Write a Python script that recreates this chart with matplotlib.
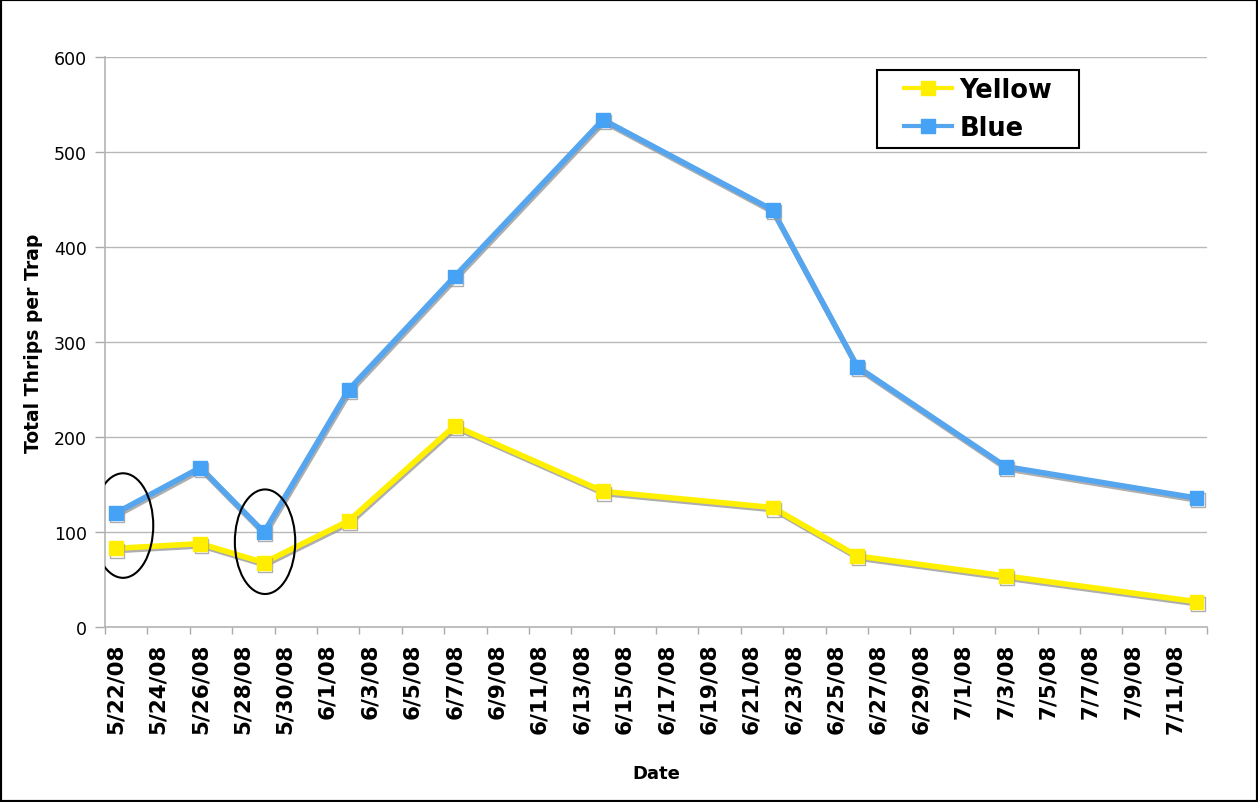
from datetime import datetime, timedelta

import matplotlib
matplotlib.use("Agg")
import matplotlib.pyplot as plt
import matplotlib.dates as mdates
import matplotlib.patheffects as pe
from matplotlib.patches import Ellipse, Rectangle

# sample dates (2008) and total thrips per trap
dates = ["5/22", "5/26", "5/29", "6/2", "6/7", "6/14", "6/22", "6/26", "7/3", "7/12"]
yellow = [83, 88, 68, 112, 212, 143, 126, 75, 54, 27]
blue = [120, 168, 100, 250, 369, 534, 439, 274, 169, 136]

# circled samples: (date, y centre)
circled = [("5/22", 107), ("5/29", 90)]


def to_dt(s):
    m, d = s.split("/")
    return datetime(2008, int(m), int(d))


x = [to_dt(d) for d in dates]

plt.rcParams["font.family"] = ["DejaVu Sans"]

fig = plt.figure(figsize=(12.58, 8.03), dpi=100)
ax = fig.add_axes([0.0835, 0.2176, 0.876, 0.7102])

shadow = [pe.SimpleLineShadow(offset=(0.8, -1.6), shadow_color="#9a9a9a", alpha=0.8), pe.Normal()]

ax.plot(x, yellow, color="#FFF000", lw=4, marker="s", markersize=10,
        markerfacecolor="#FFEE00", markeredgecolor="#FFEE00", label="Yellow",
        path_effects=shadow, zorder=3)
ax.plot(x, blue, color="#55A6EE", lw=4, marker="s", markersize=10,
        markerfacecolor="#45A2F5", markeredgecolor="#45A2F5", label="Blue",
        path_effects=shadow, zorder=4)

start = datetime(2008, 5, 22)
ax.set_xlim(mdates.date2num(start - timedelta(hours=12)),
            mdates.date2num(datetime(2008, 7, 12, 12)))
ax.set_ylim(0, 600)

label_days = [start + timedelta(days=2 * i) for i in range(26)]
ax.set_xticks([mdates.date2num(d) for d in label_days])
ax.set_xticklabels([f"{d.month}/{d.day}/08" for d in label_days],
                   rotation=90, fontsize=15.5, fontweight="bold")
edge_days = [start - timedelta(hours=12) + timedelta(days=2 * i) for i in range(27)]
ax.set_xticks([mdates.date2num(d) for d in edge_days], minor=True)
ax.tick_params(axis="x", which="major", length=0, pad=11)
ax.tick_params(axis="x", which="minor", length=5, color="#aaaaaa", width=1)

ax.set_yticks(range(0, 601, 100))
ax.tick_params(axis="y", labelsize=12.5, length=7, color="#aaaaaa", width=1, pad=6)
ax.grid(axis="y", color="#b8b8b8", lw=1)
ax.set_axisbelow(True)

for side in ["top", "right"]:
    ax.spines[side].set_visible(False)
for side in ["left", "bottom"]:
    ax.spines[side].set_color("#b4b4b4")
    ax.spines[side].set_linewidth(1.2)

ax.set_ylabel("Total Thrips per Trap", fontsize=13.5, fontweight="bold", labelpad=8)
ax.set_xlabel("Date", fontsize=13, fontweight="bold", labelpad=22)

for (d, yc), dx in zip(circled, [0.35, 0.05]):
    ax.add_patch(Ellipse((mdates.date2num(to_dt(d)) + dx, yc), width=2.85, height=110,
                         fill=False, edgecolor="black", lw=1.5, zorder=5))

# legend box drawn by hand, legend entries centred inside it
fig.patches.append(Rectangle((877 / 1258, 1 - 149 / 803), 202 / 1258, 78 / 803,
                             transform=fig.transFigure, fill=False,
                             edgecolor="black", lw=1.5, zorder=10))
leg = ax.legend(loc="center", bbox_to_anchor=(978 / 1258, 1 - 110 / 803),
                bbox_transform=fig.transFigure, frameon=False,
                prop={"size": 18.5, "weight": "bold"},
                handlelength=1.85, handletextpad=0.3, borderpad=0,
                labelspacing=0.45, borderaxespad=0)
for h in leg.legend_handles:
    h.set_path_effects([])
    h.set_markersize(10)
    h.set_linewidth(3)

fig.patches.append(Rectangle((0, 0), 1, 1, transform=fig.transFigure, fill=False,
                             edgecolor="black", lw=3))

fig.savefig("out.png", dpi=100)
